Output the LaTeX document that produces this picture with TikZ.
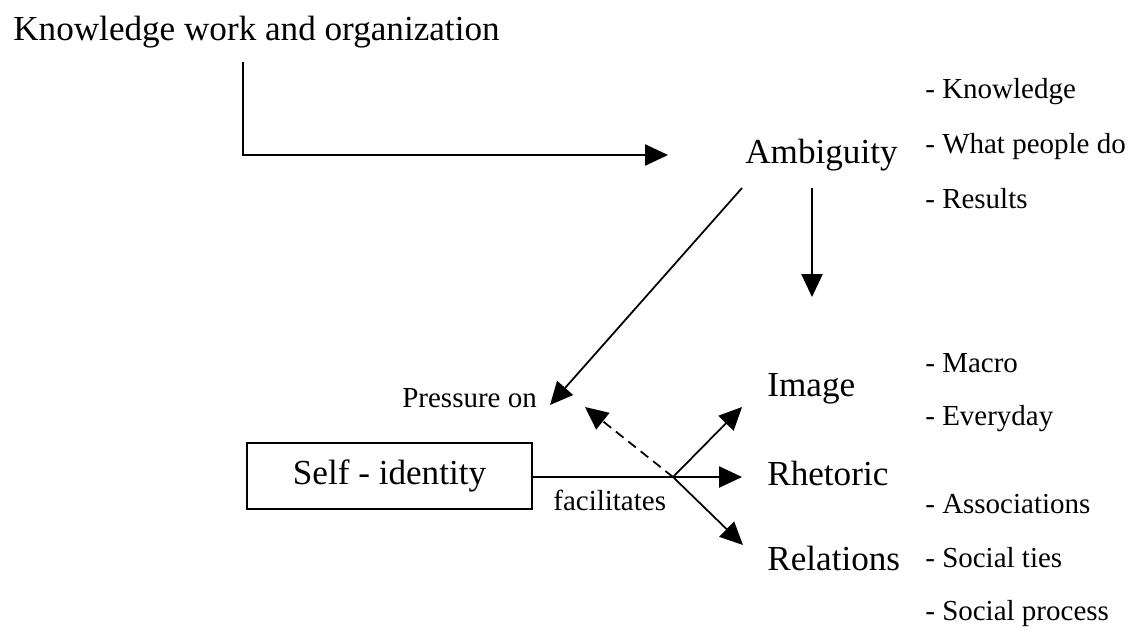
\documentclass[tikz,border=0pt]{standalone}
\usepackage{fontspec}
\setmainfont{Liberation Serif}
\usetikzlibrary{arrows.meta}

\begin{document}
\begin{tikzpicture}[x=0.02cm,y=-0.02cm,
  big/.style={font=\fontsize{20}{24}\selectfont, inner sep=0pt, anchor=base west},
  small/.style={font=\fontsize{16.5}{20}\selectfont, inner sep=0pt, anchor=base west},
  arr/.style={-{Triangle[length=13pt,width=12pt]}, line width=1pt}]
        \useasboundingbox (0,0) rectangle (1146,627);
        \node[big] (K) at (13,40) {Knowledge work and organization};
        \node[big] (A) at (745,163) {Ambiguity};
        \node[small] (A1) at (925,98) {- Knowledge};
        \node[small] (A2) at (925,153) {- What people do};
        \node[small] (A3) at (925,208) {- Results};
        \node[small] (P) at (402,407) {Pressure on};
        \node[big] (I) at (767,396) {Image};
        \node[big] (R) at (767,485) {Rhetoric};
        \node[big] (L) at (767,570) {Relations};
        \node[small] (I1) at (925,372) {- Macro};
        \node[small] (I2) at (925,425) {- Everyday};
        \node[small] (L1) at (925,513) {- Associations};
        \node[small] (L2) at (925,567) {- Social ties};
        \node[small] (L3) at (925,620) {- Social process};
        \node[draw, line width=1pt, minimum width=5.7cm, minimum height=1.32cm,
              font=\fontsize{20}{24}\selectfont] (S) at (389.5,476) {Self - identity};
        \node[small] (F) at (553,510) {facilitates};
        \coordinate (k1) at (243,62);
        \coordinate (k2) at (668,155);
        \coordinate (a1) at (742,188);
        \coordinate (p1) at (550,405);
        \coordinate (a2) at (812,188);
        \coordinate (i0) at (812,297);
        \coordinate (J) at (673,477);
        \coordinate (t1) at (742,407);
        \coordinate (t2) at (742,477);
        \coordinate (t3) at (743,545);
        \coordinate (t4) at (585,407);
        \draw [arr] (k1) |- (k2);
        \draw [arr] (a1) -- (p1);
        \draw [arr] (a2) -- (i0);
        \draw [line width=1pt] (S.east |- J) -- (J);
        \draw [arr] (J) -- (t1);
        \draw [arr] (J) -- (t2);
        \draw [arr] (J) -- (t3);
        \draw [arr, dash pattern=on 5.5pt off 3.5pt] (J) -- (t4);
\end{tikzpicture}
\end{document}
